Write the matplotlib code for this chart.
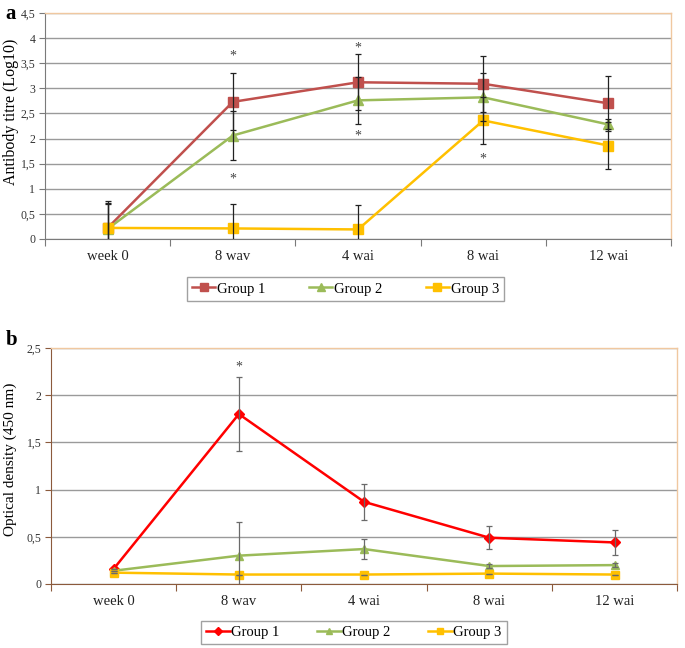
import numpy as np
import matplotlib.pyplot as plt

plt.rcParams['font.family'] = ['Liberation Serif', 'DejaVu Serif']

categories = ["week 0", "8 wav", "4 wai", "8 wai", "12 wai"]
groups = ["Group 1", "Group 2", "Group 3"]

# panel a: antibody titre (Log10)
titre_g1 = [0.22, 2.73, 3.12, 3.09, 2.70]
titre_g2 = [0.20, 2.06, 2.76, 2.82, 2.28]
titre_g3 = [0.22, 0.21, 0.19, 2.36, 1.86]
titre_err_g1 = [0.53, 0.57, 0.56, 0.56, 0.55]
titre_err_g2 = [0.50, 0.48, 0.47, 0.48, 0.10]
titre_err_g3 = [0.50, 0.49, 0.48, 0.47, 0.47]
titre_stars_x = [1, 1, 2, 2, 3]
titre_stars_y = [3.65, 1.20, 3.80, 2.05, 1.60]

# panel b: optical density (450 nm)
od_g1 = [0.16, 1.80, 0.87, 0.49, 0.44]
od_g2 = [0.14, 0.30, 0.37, 0.19, 0.20]
od_g3 = [0.12, 0.10, 0.10, 0.11, 0.10]
od_err_g1 = [0.0, 0.39, 0.19, 0.12, 0.13]
od_err_g2 = [0.0, 0.36, 0.11, 0.02, 0.02]
od_err_g3 = [0.0, 0.0, 0.0, 0.0, 0.0]
od_stars_x = [1]
od_stars_y = [2.30]

x = np.arange(len(categories)) + 0.5

fig = plt.figure(figsize=(6.85, 6.48), dpi=100)


def style_axes(ax, ymax, left_col, bottom_col):
    ax.set_xlim(0, 5)
    ax.set_ylim(0, ymax)
    ax.set_yticks(np.arange(0, ymax + 0.01, 0.5))
    ax.set_yticklabels([("%g" % v).replace(".", ",") for v in np.arange(0, ymax + 0.01, 0.5)],
                       fontsize=8.5, color="#333333")
    ax.set_xticks(np.arange(0, 6))
    ax.set_xticklabels([])
    ax.set_xticks(x, minor=True)
    ax.set_xticklabels(categories, minor=True, fontsize=10.5, color="#222222")
    ax.tick_params(axis="x", which="minor", length=0, pad=8)
    ax.tick_params(axis="x", which="major", length=5, color=bottom_col, direction="out")
    ax.tick_params(axis="y", length=4, color=left_col, direction="out", pad=3)
    ax.grid(axis="y", color="#9a9a9a", lw=1.0)
    ax.set_axisbelow(True)
    for s in ["top", "right"]:
        ax.spines[s].set_color("#f0c8a0")
        ax.spines[s].set_linewidth(1.0)
    ax.spines["left"].set_color(left_col)
    ax.spines["bottom"].set_color(bottom_col)


# ---- panel a ----
ax_a = fig.add_axes([0.0657, 0.6312, 0.914, 0.3488])
style_axes(ax_a, 4.5, "#7a7a7a", "#7a7a7a")
fig.text(11 / 685, 1 - 112 / 648, "Antibody titre (Log10)", fontsize=11.5, rotation=90,
         ha="center", va="center")

a_series = [(titre_g1, titre_err_g1, "#c0504d", "s"),
            (titre_g2, titre_err_g2, "#9bbb59", "^"),
            (titre_g3, titre_err_g3, "#ffc000", "s")]
for (vals, errs, col, mk), name in zip(a_series, groups):
    ax_a.plot(x, vals, color=col, lw=1.8, marker=mk, ms=6.5, mec=col, label=name, zorder=3)
    ax_a.errorbar(x, vals, yerr=errs, fmt="none", ecolor="#222222", elinewidth=0.9,
                  capsize=2, capthick=0.9, zorder=4)
for sx, sy in zip(titre_stars_x, titre_stars_y):
    ax_a.text(x[sx], sy, "*", ha="center", va="center", fontsize=10, color="#444444")

fig.text(0.008, 0.978, "a", fontsize=15, fontweight="bold", va="center")
leg_a = ax_a.legend(loc="center", bbox_to_anchor=(345.5 / 685, 1 - 289 / 648),
                    bbox_transform=fig.transFigure, ncol=3, fontsize=10.5, frameon=True,
                    fancybox=False, edgecolor="#8a8a8a", handlelength=1.6, handletextpad=0.1,
                    columnspacing=3.0, borderpad=0.35, markerscale=0.8)
leg_a.get_frame().set_linewidth(1.0)

# ---- panel b ----
ax_b = fig.add_axes([0.0745, 0.0988, 0.914, 0.3642])
style_axes(ax_b, 2.5, "#8b5a3c", "#8b5a3c")
fig.text(10 / 685, 1 - 459 / 648, "Optical density (450 nm)", fontsize=11, rotation=90,
         ha="center", va="center")

b_series = [(od_g1, od_err_g1, "#ff0000", "D"),
            (od_g2, od_err_g2, "#9bbb59", "^"),
            (od_g3, od_err_g3, "#ffc000", "s")]
for (vals, errs, col, mk), name in zip(b_series, groups):
    ax_b.plot(x, vals, color=col, lw=1.8, marker=mk, ms=6 if mk != "D" else 5, mec=col,
              label=name, zorder=3)
    ax_b.errorbar(x, vals, yerr=errs, fmt="none", ecolor="#6a6a6a", elinewidth=0.9,
                  capsize=2, capthick=0.9, zorder=4)
for sx, sy in zip(od_stars_x, od_stars_y):
    ax_b.text(x[sx], sy, "*", ha="center", va="center", fontsize=10, color="#444444")

fig.text(0.008, 0.475, "b", fontsize=15, fontweight="bold", va="center")
leg_b = ax_b.legend(loc="center", bbox_to_anchor=(354 / 685, 1 - 632.5 / 648),
                    bbox_transform=fig.transFigure, ncol=3, fontsize=10.5, frameon=True,
                    fancybox=False, edgecolor="#8a8a8a", handlelength=1.6, handletextpad=0.1,
                    columnspacing=2.6, borderpad=0.35, markerscale=0.8)
leg_b.get_frame().set_linewidth(1.0)

fig.savefig("out.png", dpi=100, facecolor="white")
